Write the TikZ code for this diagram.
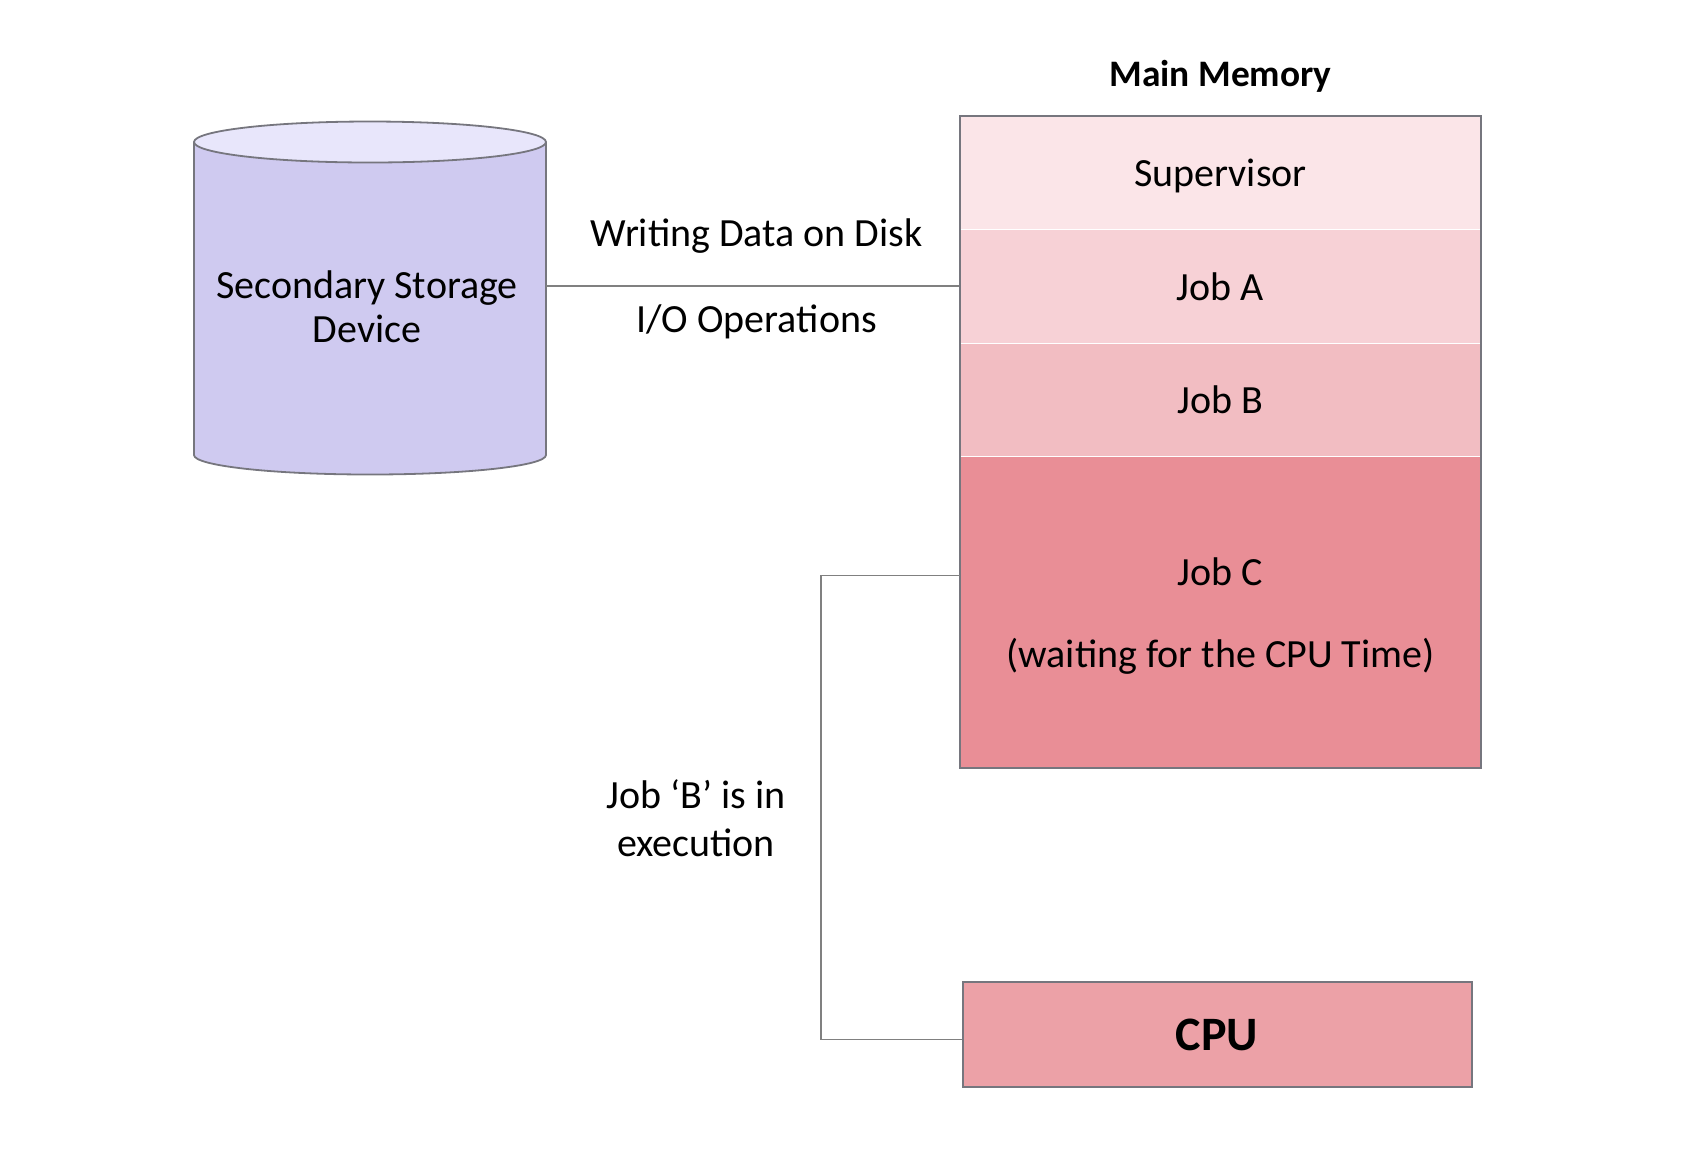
\documentclass[tikz,border=0pt]{standalone}
\usepackage{fontspec}
\setmainfont{Carlito}
\usetikzlibrary{positioning,fit}
\definecolor{diskbody}{HTML}{CFCAF0}
\definecolor{disktop}{HTML}{E8E6FB}
\definecolor{supfill}{HTML}{FBE5E8}
\definecolor{jobafill}{HTML}{F7D1D6}
\definecolor{jobbfill}{HTML}{F2BDC2}
\definecolor{jobcfill}{HTML}{E98E96}
\definecolor{cpufill}{HTML}{ECA1A7}
\definecolor{edge}{HTML}{76767E}
\tikzset{
	txt/.style={font=\fontsize{20}{22}\selectfont, inner sep=0pt, align=center},
	memslot/.style={txt, minimum width=260pt, anchor=north},
	link/.style={draw=gray, line width=0.75pt}
}
\begin{document}
\begin{tikzpicture}[x=0.5pt, y=-0.5pt]
	\useasboundingbox (0,0) rectangle (1690,1148);
	\draw [edge, line width=0.9pt, fill=diskbody] (194,142) -- (194,455) arc[start angle=180, end angle=0, x radius=176, y radius=19.5] -- (546,142);
	\draw [edge, line width=0.9pt, fill=disktop] (370,142) ellipse[x radius=176, y radius=20.5];
	\node[txt] (disk) at (367,307) {Secondary Storage\\Device};
	\coordinate (diskport) at (546,286);
	\node[memslot, fill=supfill, minimum height=56.5pt, text depth=0pt] (sup) at (1220.5,116) {Supervisor};
	\node[memslot, fill=jobafill, minimum height=56.5pt, below=0pt of sup] (joba) {Job A};
	\node[memslot, fill=jobbfill, minimum height=56pt, below=0pt of joba] (jobb) {Job B};
	\node[memslot, fill=jobcfill, minimum height=155.5pt, text depth=0pt, below=0pt of jobb] (jobc) {Job C\\[19pt](waiting for the CPU Time)};
	\node[draw=edge, line width=1pt, inner sep=0pt, fit=(sup)(jobc)] (mem) {};
	\node[txt, font=\fontsize{18.7}{22}\selectfont\bfseries, above=11pt of mem] (memlabel) {Main Memory};
	\node[txt, font=\fontsize{24}{26}\selectfont\bfseries, draw=edge, line width=1pt, fill=cpufill, minimum width=254.5pt, minimum height=52.5pt] (cpu) at (1217,1034.5) {CPU};
	\draw[link] (diskport) -- (diskport -| mem.west)
		node[txt, midway, above=16pt, xshift=2pt] (writelabel) {Writing Data on Disk}
		node[txt, midway, below=9pt, xshift=2pt] (iolabel) {I/O Operations};
	\draw[link] ([yshift=18.5pt]jobc.west) -- ++(-139,0) |- ([yshift=-2.5pt]cpu.west);
	\node[txt, text depth=0pt] (exec) at (696,818) {Job ‘B’ is in\\[2pt]execution};
\end{tikzpicture}
\end{document}
